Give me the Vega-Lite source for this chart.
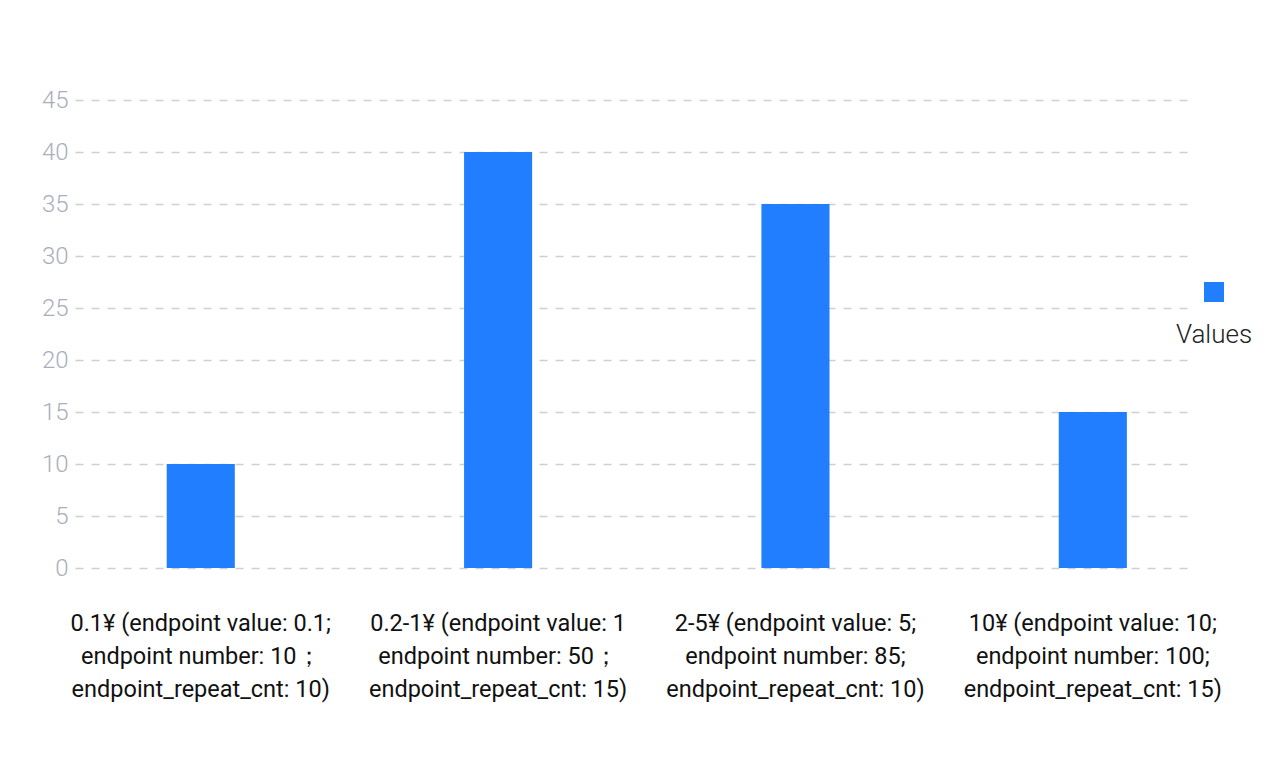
{
  "$schema": "https://vega.github.io/schema/vega-lite/v6.json",
  "width": 1113,
  "height": 468,
  "autosize": "none",
  "padding": {"left": 75, "top": 100, "right": 92, "bottom": 206},
  "background": "white",
  "config": {
    "view": {"stroke": null},
    "font": "Roboto"
  },
  "data": {
    "values": [
      {"category": "0.1¥ (endpoint value: 0.1;|endpoint number: 10；|endpoint_repeat_cnt: 10)", "series": "Values", "value": 10},
      {"category": "0.2-1¥ (endpoint value: 1|endpoint number: 50；|endpoint_repeat_cnt: 15)", "series": "Values", "value": 40},
      {"category": "2-5¥ (endpoint value: 5;|endpoint number: 85;|endpoint_repeat_cnt: 10)", "series": "Values", "value": 35},
      {"category": "10¥ (endpoint value: 10;|endpoint number: 100;|endpoint_repeat_cnt: 15)", "series": "Values", "value": 15}
    ]
  },
  "mark": {"type": "bar"},
  "encoding": {
    "x": {
      "field": "category",
      "type": "nominal",
      "sort": null,
      "scale": {"paddingInner": 0.771, "paddingOuter": 0.257, "align": 0.6},
      "axis": {
        "title": null,
        "labelAngle": 0,
        "labelExpr": "split(datum.label, '|')",
        "labelFont": "Roboto",
        "labelFontSize": 23.5,
        "labelColor": "#111111",
        "labelLineHeight": 33,
        "labelPadding": 43,
        "labelBaseline": "top",
        "labelLimit": 400,
        "domain": false,
        "ticks": false,
        "grid": false
      }
    },
    "y": {
      "field": "value",
      "type": "quantitative",
      "scale": {"domain": [0, 45], "nice": false},
      "axis": {
        "title": null,
        "values": [0, 5, 10, 15, 20, 25, 30, 35, 40, 45],
        "labelFont": "Roboto",
        "labelFontWeight": 300,
        "labelFontSize": 24,
        "labelColor": "#a9aebb",
        "labelPadding": 7,
        "domain": false,
        "ticks": false,
        "grid": true,
        "gridColor": "#cfcfcf",
        "gridWidth": 1.5,
        "gridDash": [8, 8]
      }
    },
    "color": {
      "field": "series",
      "type": "nominal",
      "scale": {"range": ["#207eff"]},
      "legend": {
        "orient": "none",
        "legendX": 1101,
        "legendY": 182,
        "title": "Values",
        "titleOrient": "bottom",
        "titleFont": "Roboto",
        "titleFontWeight": 300,
        "titleFontSize": 26,
        "titleColor": "#222222",
        "titleAnchor": "middle",
        "titlePadding": 20,
        "labelExpr": "''",
        "labelFontSize": 1,
        "labelOffset": 0,
        "symbolType": "square",
        "symbolSize": 400,
        "symbolStrokeWidth": 0,
        "symbolOpacity": 1
      }
    }
  }
}
